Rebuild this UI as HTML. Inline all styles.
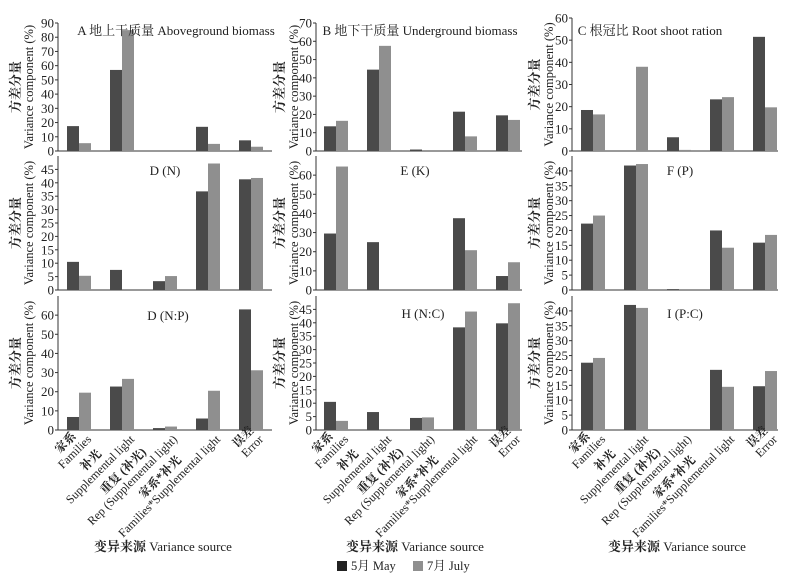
<!DOCTYPE html>
<html><head><meta charset="utf-8"><style>
html,body{margin:0;padding:0;background:#fff;}
svg{display:block;font-family:"Liberation Serif","Noto Serif CJK SC",serif;}
</style></head><body>
<svg id="c" width="808" height="585"></svg>
<script>
const categories = ["Families","Supplemental light","Rep (Supplemental light)","Families*Supplemental light","Error"];
const catZh = ["家系","补光","重复 (补光)","家系*补光","误差"];
const panelTitles = ["A 地上干质量 Aboveground biomass","B 地下干质量 Underground biomass","C 根冠比 Root shoot ration","D (N)","E (K)","F (P)","D (N:P)","H (N:C)","I (P:C)"];
const mayA=[17.5,57,0,17,7.5], julA=[5.5,85,0,5,3];
const mayB=[13.5,44.5,0.8,21.5,19.5], julB=[16.5,57.5,0,8,17];
const mayC=[18.5,0,6.2,23.3,51.5], julC=[16.5,38,0.5,24.3,19.7];
const mayD=[10.5,7.5,3.3,36.8,41.3], julD=[5.3,0,5.2,47.2,41.8];
const mayE=[29.5,25,0,37.5,7.3], julE=[64.5,0,0,20.8,14.5];
const mayF=[22.3,41.8,0.3,20,15.9], julF=[25,42.3,0,14.2,18.5];
const mayG=[6.8,22.7,1,6,63], julG=[19.5,26.7,1.8,20.5,31.2];
const mayH=[10.5,6.7,4.5,38.3,39.8], julH=[3.4,0,4.7,44.2,47.3];
const mayI=[22.6,42,0,20.2,14.7], julI=[24.2,41,0,14.5,19.8];
const yMax=[90,70,60,50,70,45,70,50,45];
const yTickMax=[90,70,60,45,60,40,60,45,40];
const yStep=[10,10,10,5,10,5,10,5,5];
const legendLabels=["5月 May","7月 July"];

const mays=[mayA,mayB,mayC,mayD,mayE,mayF,mayG,mayH,mayI];
const juls=[julA,julB,julC,julD,julE,julF,julG,julH,julI];
const colX=[58,316,572], colR=[272,522,778], firstC=[79,336,593];
const rowTop=[[23,23,18],[156,156,156],[296,296,296]], rowBot=[151,290,430];
const titlePos=[[176,30],[420,30],[650,30],[165,170],[415,170],[680,170],[168,315],[423,313],[685,313]];
const axTitleX=[[20,33],[284,298],[539,553]];
const svg=document.getElementById('c'), NS="http://www.w3.org/2000/svg";
function mk(t,a,p){const e=document.createElementNS(NS,t);for(const k in a)e.setAttribute(k,a[k]);(p||svg).appendChild(e);return e;}
for(let i=0;i<9;i++){
  const r=Math.floor(i/3), c=i%3;
  const g=mk('g',{});
  
  
  const x0=colX[c], x1=colR[c], yb=rowBot[r], yt=rowTop[r][c];
  const y=v=>yb-(v/yMax[i])*(yb-yt);
  const ax=mk('path',{d:`M${x0},${yt}V${yb}H${x1}`,stroke:'#333',fill:'none','stroke-width':1},g);
  
  
  for(let v=0;v<=yTickMax[i]+1e-9;v+=yStep[i]){
    mk('line',{x1:x0-3,x2:x0,y1:y(v),y2:y(v),stroke:'#333'},g);
    const t=mk('text',{x:x0-4,y:y(v)+4.5,'text-anchor':'end','font-size':13,fill:'#222'},g);
    t.textContent=v;
    
    
  }
  for(let k=0;k<5;k++){
    const cx=firstC[c]+k*43;
    [[mays[i][k],'#4a4a4a',cx-12],[juls[i][k],'#8f8f8f',cx]].forEach((b,j)=>{
      if(b[0]<=0)return;
      const rc=mk('rect',{x:b[2],y:y(b[0]),width:12,height:yb-y(b[0]),fill:b[1]},g);
      
      
    });
  }
  const tt=mk('text',{x:titlePos[i][0],y:titlePos[i][1]+5,'text-anchor':'middle','font-size':13,fill:'#222'},g);
  tt.textContent=panelTitles[i];
  
  
  const my=(yt+yb)/2;
  const a1=mk('text',{transform:`translate(${axTitleX[c][0]},${my}) rotate(-90)`,'text-anchor':'middle','font-size':13,'font-weight':'bold',fill:'#222'},g);
  a1.textContent='方差分量';
  
  
  const a2=mk('text',{transform:`translate(${axTitleX[c][1]},${my}) rotate(-90)`,'text-anchor':'middle','font-size':12.5,fill:'#222'},g);
  a2.textContent='Variance component (%)';
  
  
}
for(let c=0;c<3;c++){
  for(let k=0;k<5;k++){
    const cx=firstC[c]+k*43;
    const lg=mk('g',{transform:`translate(${cx+13},${440}) rotate(-45)`});
    
    
    const t2=mk('text',{x:0,y:0,'text-anchor':'end','font-size':12,fill:'#222'},lg);
    t2.textContent=categories[k];
    
    
    const L=t2.getComputedTextLength();
    const t1=mk('text',{x:-L/2,y:-13,'text-anchor':'middle','font-size':12,'font-weight':'bold',fill:'#222'},lg);
    t1.textContent=catZh[k];
    
    
  }
  const xt=mk('text',{x:[163,415,677][c],y:551,'text-anchor':'middle','font-size':13,fill:'#222'});
  xt.innerHTML='<tspan font-weight="bold">变异来源</tspan> Variance source';
  
  
}
[[337,'#222'],[413,'#8f8f8f']].forEach((l,j)=>{
  const r=mk('rect',{x:l[0],y:561,width:10,height:10,fill:l[1]});
  
  
  const t=mk('text',{x:l[0]+14,y:570,'font-size':12.5,fill:'#222'});
  t.textContent=legendLabels[j];
  
  
});
</script>
</body></html>
